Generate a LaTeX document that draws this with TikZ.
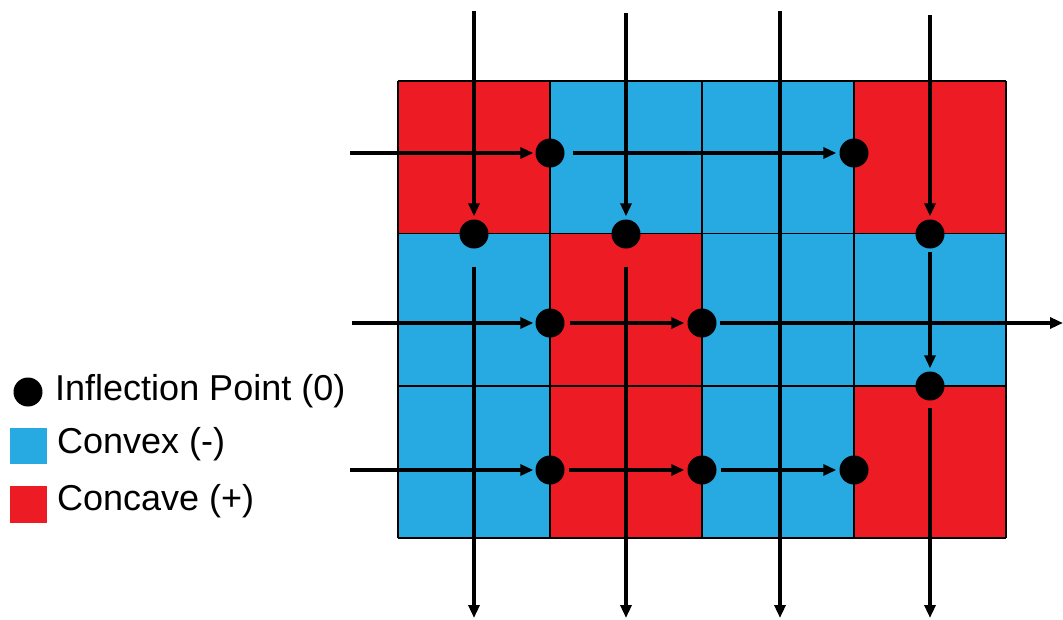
\documentclass[tikz,border=0pt]{standalone}
\usepackage{fontspec}
\setmainfont{Liberation Sans}
\usetikzlibrary{arrows.meta}
\definecolor{cvred}{HTML}{ED1C24}
\definecolor{cvblue}{HTML}{27AAE1}
\tikzset{
  cellbox/.style={draw=black, line width=1.5pt},
  ipt/.style={circle, fill=black, minimum size=29pt, inner sep=0pt},
  arr/.style={line width=3.2pt, -{Triangle[length=13pt,width=11pt]}},
  seg/.style={line width=3.2pt},
  legtext/.style={anchor=base west, inner sep=0pt, font=\fontsize{36}{40}\selectfont},
}
\begin{document}
\begin{tikzpicture}[x=1pt,y=-1pt]
\useasboundingbox (0,0) rectangle (1063,619);
% cells
\def\xa{398}\def\xb{550}\def\xc{702}\def\xd{854}\def\xe{1006}
\def\ya{81}\def\yb{233.5}\def\yc{386}\def\yd{538}
\fill[cvred]  (\xa,\ya) rectangle (\xb,\yb);
\fill[cvblue] (\xb,\ya) rectangle (\xd,\yb);
\fill[cvred]  (\xd,\ya) rectangle (\xe,\yb);
\fill[cvblue] (\xa,\yb) rectangle (\xb,\yc);
\fill[cvred]  (\xb,\yb) rectangle (\xc,\yc);
\fill[cvblue] (\xc,\yb) rectangle (\xe,\yc);
\fill[cvblue] (\xa,\yc) rectangle (\xb,\yd);
\fill[cvred]  (\xb,\yc) rectangle (\xc,\yd);
\fill[cvblue] (\xc,\yc) rectangle (\xd,\yd);
\fill[cvred]  (\xd,\yc) rectangle (\xe,\yd);
\foreach \x in {\xa,\xb,\xc,\xd,\xe} \draw[cellbox] (\x,\ya) -- (\x,\yd);
\foreach \y in {\ya,\yb,\yc,\yd} \draw[cellbox] (\xa,\y) -- (\xe,\y);

% inflection points
\node[ipt] (p1) at (550,153) {};
\node[ipt] (p2) at (854,153) {};
\node[ipt] (q1) at (474,234) {};
\node[ipt] (q2) at (626,234) {};
\node[ipt] (q3) at (930,234) {};
\node[ipt] (r1) at (550,323) {};
\node[ipt] (r2) at (702,323) {};
\node[ipt] (s1) at (930,386) {};
\node[ipt] (t1) at (550,470) {};
\node[ipt] (t2) at (702,470) {};
\node[ipt] (t3) at (854,470) {};

% free ends
\coordinate (v1top) at (474,11);
\coordinate (v2top) at (626,13);
\coordinate (v3top) at (780,11);
\coordinate (v4top) at (930,15);
\coordinate (v1bot) at (474,618);
\coordinate (v2bot) at (626,618);
\coordinate (v3bot) at (780,618);
\coordinate (v4bot) at (930,618);
\coordinate (h1l) at (350,153);
\coordinate (h2l) at (352,323);
\coordinate (h3l) at (350,470);
\coordinate (h2r) at (1063,323);

% vertical connectors
\draw[arr, shorten >=3pt] (v1top) -- (q1);
\draw[arr, shorten <=18pt] (q1) -- (v1bot);
\draw[arr, shorten >=3pt] (v2top) -- (q2);
\draw[arr, shorten <=18pt] (q2) -- (v2bot);
\draw[arr] (v3top) -- (v3bot);
\draw[arr, shorten >=3pt] (v4top) -- (q3);
\draw[arr, shorten <=3pt, shorten >=3pt] (q3) -- (s1);
\draw[arr, shorten <=7pt] (s1) -- (v4bot);

% horizontal connectors
\draw[arr, shorten >=2pt] (h1l) -- (p1);
\draw[arr, shorten <=8pt, shorten >=3pt] (p1) -- (p2);
\draw[arr, shorten >=2pt] (h2l) -- (r1);
\draw[arr, shorten <=5pt, shorten >=3pt] (r1) -- (r2);
\draw[arr, shorten <=3pt] (r2) -- (h2r);
\draw[arr, shorten >=2pt] (h3l) -- (t1);
\draw[arr, shorten <=4pt, shorten >=3pt] (t1) -- (t2);
\draw[arr, shorten <=4pt, shorten >=3pt] (t2) -- (t3);

% legend
\node[ipt] (legdot) at (28,392) {};
\node[legtext] (legdottext) at (55,400) {Inflection Point (0)};
\fill[cvblue] (10,428) rectangle (47,464);
\node[legtext] (legconvex) at (57,453) {Convex (-)};
\fill[cvred] (10,486) rectangle (47,523);
\node[legtext] (legconcave) at (57,510) {Concave (+)};
\end{tikzpicture}
\end{document}
